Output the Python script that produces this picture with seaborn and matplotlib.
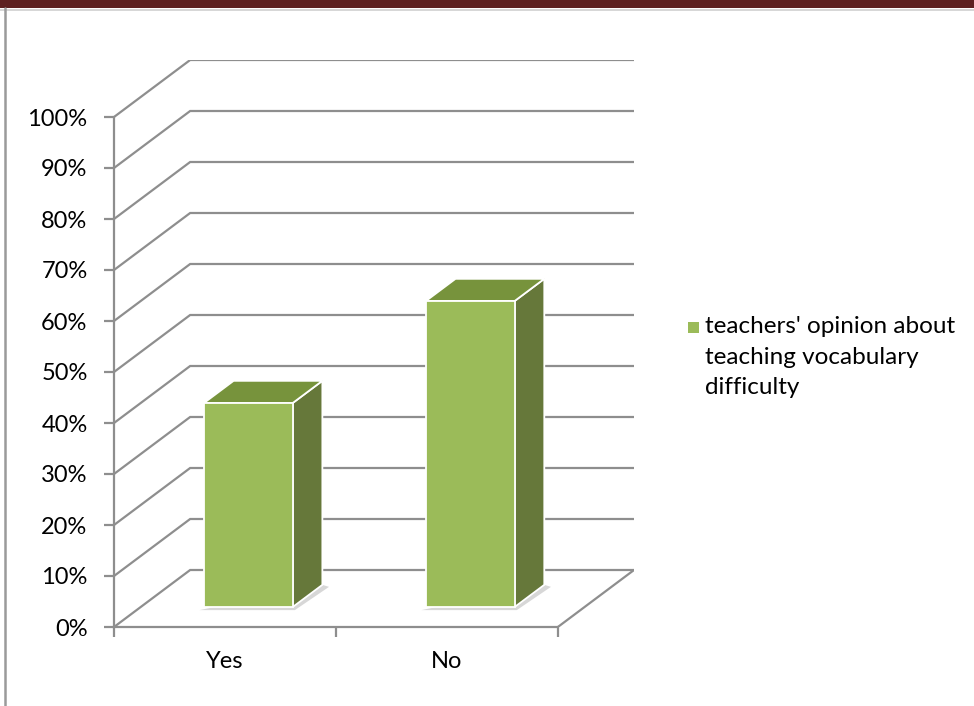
import matplotlib
matplotlib.use("Agg")
import matplotlib.pyplot as plt
import seaborn as sns
import pandas as pd
from matplotlib.patches import Polygon, Rectangle
from matplotlib.lines import Line2D

# Survey answers and their shares (percent)
categories = ["Yes", "No"]
values = [40, 60]
series_label = "teachers' opinion about\nteaching vocabulary\ndifficulty"
y_ticks = [0, 10, 20, 30, 40, 50, 60, 70, 80, 90, 100]
y_tick_labels = [f"{v}%" for v in y_ticks]

FRONT = "#9BBB59"
TOP = "#77933C"
SIDE = "#66783A"
GRID = "#8E8E8E"

sns.set_theme(style="white")
plt.rcParams["font.family"] = ["Lato", "DejaVu Sans"]

W, H = 974, 706
fig = plt.figure(figsize=(W / 100, H / 100), dpi=100)
ax = fig.add_axes([114 / W, 79 / H, 520 / W, 567 / H])

df = pd.DataFrame({"answer": categories, "share": values})
sns.barplot(data=df, x="answer", y="share", order=categories, width=0.4,
            color=FRONT, saturation=1, edgecolor="white", linewidth=1.3,
            ax=ax, zorder=4)

# oblique projection: a unit of depth moves a point by (DX, DY) in data units
DX = 76 / 221.5
DY = 57 / 5.1
D0 = 0.35   # depth where the bar fronts sit
T = 0.39    # bar thickness in depth

ax.set_xlim(-0.5, 1.5 + DX)
ax.set_ylim(0, 100 + DY)

# walls: side-wall diagonals and back-wall gridlines
for v in y_ticks:
    ax.plot([-0.5, -0.5 + DX, 1.5 + DX], [v, v + DY, v + DY],
            color=GRID, lw=1.6, zorder=1, solid_joinstyle="miter")
# floor right edge
ax.plot([1.5, 1.5 + DX], [0, DY], color=GRID, lw=1.6, zorder=1)

# push fronts back into the box and add top / side faces
for p in list(ax.patches):
    p.set_x(p.get_x() + D0 * DX - 0.015)
    p.set_y(p.get_y() + D0 * DY)
    x0, y0 = p.get_x(), p.get_y()
    x1, y1 = x0 + p.get_width(), y0 + p.get_height()
    tx, ty = T * DX, T * DY
    # soft floor shadow
    shadow = Polygon([(x0 - 0.02, y0 - 0.6), (x1 + 0.01, y0 - 0.6),
                      (x1 + tx + 0.03, y0 + ty - 0.4), (x1 + tx, y0 + ty)],
                     closed=True, facecolor="#bdbdbd", edgecolor="none",
                     alpha=0.6, zorder=2)
    ax.add_patch(shadow)
    side = Polygon([(x1, y0), (x1 + tx, y0 + ty), (x1 + tx, y1 + ty), (x1, y1)],
                   closed=True, facecolor=SIDE, edgecolor="white", lw=1.3,
                   zorder=3)
    top = Polygon([(x0, y1), (x1, y1), (x1 + tx, y1 + ty), (x0 + tx, y1 + ty)],
                  closed=True, facecolor=TOP, edgecolor="white", lw=1.3,
                  zorder=3)
    ax.add_patch(side)
    ax.add_patch(top)

# axes lines and ticks
for s in ["top", "right"]:
    ax.spines[s].set_visible(False)
for s in ["left", "bottom"]:
    ax.spines[s].set_color(GRID)
    ax.spines[s].set_linewidth(1.6)
ax.spines["left"].set_bounds(0, 100)
ax.spines["bottom"].set_bounds(-0.5, 1.5)

ax.set_yticks(y_ticks)
ax.set_yticklabels(y_tick_labels)
ax.tick_params(axis="y", direction="out", length=7, width=1.6, color=GRID,
               labelsize=17, pad=12, labelcolor="black", left=True)

ax.set_xticks([-0.5, 0.5, 1.5])
ax.set_xticklabels(["", "", ""])
ax.set_xticks([0, 1], minor=True)
ax.set_xticklabels(categories, minor=True)
ax.tick_params(axis="x", which="major", direction="out", length=7, width=1.6,
               color=GRID, bottom=True)
ax.tick_params(axis="x", which="minor", length=0, labelsize=17, pad=17,
               labelcolor="black", bottom=True)
ax.set_xlabel("")
ax.set_ylabel("")
ax.grid(False)

# legend
fig.patches.append(Rectangle((688 / W, 1 - 333 / H), 11 / W, 11 / H,
                             transform=fig.transFigure, facecolor=FRONT,
                             edgecolor="none"))
fig.text(705 / W, 1 - 316 / H, series_label, fontsize=17.5, va="top",
         ha="left", linespacing=1.57, color="black")

# page framing
fig.patches.append(Rectangle((0, 1 - 8 / H), 1, 8 / H, transform=fig.transFigure,
                             facecolor="#5E2121", edgecolor="none"))
fig.lines.append(Line2D([0, 1], [1 - 9.5 / H, 1 - 9.5 / H],
                        transform=fig.transFigure, color="#d0d0d0", lw=1.2))
fig.lines.append(Line2D([4.5 / W, 4.5 / W], [0, 1 - 8 / H],
                        transform=fig.transFigure, color="#9a9a9a", lw=1.8))

fig.savefig("out.png", dpi=100)
